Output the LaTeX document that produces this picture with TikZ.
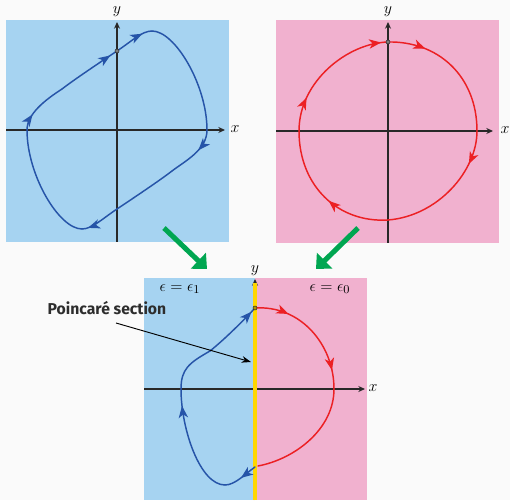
\documentclass[tikz,border=0pt]{standalone}
\usepackage{fontspec}
\newfontfamily\labelfont{Fira Sans}
\usetikzlibrary{arrows.meta,decorations.markings}
\definecolor{bgc}{RGB}{250,250,250}
\definecolor{panelblue}{RGB}{166,211,241}
\definecolor{panelpink}{RGB}{241,177,207}
\definecolor{curveblue}{RGB}{38,84,168}
\definecolor{curvered}{RGB}{236,32,36}
\definecolor{secyellow}{RGB}{255,214,0}
\definecolor{arrgreen}{RGB}{0,166,81}
\definecolor{axisc}{RGB}{40,40,40}
\definecolor{textc}{RGB}{45,45,45}
\tikzset{
  axisline/.style={draw=axisc, line width=0.8pt, -{Stealth[length=5pt,width=4.5pt]}},
  curveb/.style={draw=curveblue, line width=1.1pt, line cap=round},
  curver/.style={draw=curvered, line width=1.1pt, line cap=round},
  tipat/.style={postaction={decorate,decoration={markings,mark=at position #1 with {\arrow{Stealth[length=9pt,width=7pt,inset=2.5pt]}}}}},
  mathlabel/.style={inner sep=0pt, font=\fontsize{13}{15}\selectfont},
  dotmark/.style={circle, inner sep=0pt, minimum size=3pt, draw=axisc, line width=0.4pt},
  greenarrow/.style={draw=arrgreen, line width=3.8pt, -{Triangle[length=9pt,width=16pt]}},
  pointer/.style={draw=black, line width=0.7pt, -{Stealth[length=7pt,width=5pt]}},
}
\begin{document}
\begin{tikzpicture}[x=0.75pt,y=0.75pt]
\fill[bgc] (0,0) rectangle (510,500);
\useasboundingbox (0,0) rectangle (510,500);
% ---------- top-left panel ----------
\fill[panelblue] (6,258) rectangle (229,480);
\node[mathlabel] (x1) at (235,371) {$x$};
\node[mathlabel] (y1) at (117,488) {$y$};
\coordinate (x1s) at (6,370);
\coordinate (x1e) at (225,370);
\coordinate (y1s) at (117,258);
\coordinate (y1e) at (117,478);
\draw[axisline] (x1s) -- (x1e);
\draw[axisline] (y1s) -- (y1e);
\begin{scope}[shift={(117,370)}]
\draw[curveb,tipat=0.75] (0,79) .. controls (15,89) and (25,99) .. (35,99);
\draw[curveb] (35,99) .. controls (58,99) and (90,45) .. (90,0);
\draw[curveb,tipat=0.4] (90,0) .. controls (90,-20) and (68,-31) .. (55,-41);
\draw[curveb] (55,-41) .. controls (42,-51) and (15,-69) .. (0,-79);
\draw[curveb,tipat=0.85] (0,-79) .. controls (-15,-89) and (-25,-99) .. (-35,-99);
\draw[curveb] (-35,-99) .. controls (-58,-99) and (-90,-45) .. (-90,0);
\draw[curveb,tipat=0.3] (-90,0) .. controls (-90,16) and (-72,30) .. (-55,41);
\draw[curveb,tipat=0.88] (-55,41) .. controls (-42,51) and (-15,69) .. (0,79);
\node[dotmark, fill=axisc!60] (d1) at (0,79) {};
\end{scope}
% ---------- top-right panel ----------
\fill[panelpink] (276,257) rectangle (499,480);
\node[mathlabel] (x2) at (505,370) {$x$};
\node[mathlabel] (y2) at (388,488) {$y$};
\coordinate (x2s) at (276,369);
\coordinate (x2e) at (493,369);
\coordinate (y2s) at (388,257);
\coordinate (y2e) at (388,478);
\draw[axisline] (x2s) -- (x2e);
\draw[axisline] (y2s) -- (y2e);
\begin{scope}[shift={(388,369)}]
\draw[curver,tipat=0.27] (0,89) .. controls (50,90) and (89,55) .. (89,0);
\draw[curver,tipat=0.25] (89,0) .. controls (89,-40) and (50,-85) .. (0,-89);
\draw[curver,tipat=0.45] (0,-89) .. controls (-50,-92) and (-89,-55) .. (-89,0);
\draw[curver,tipat=0.25,tipat=0.95] (-89,0) .. controls (-89,50) and (-40,88) .. (0,89);
\node[dotmark, fill=axisc!60] (d2) at (0,89) {};
\end{scope}
% ---------- green arrows ----------
\coordinate (g1s) at (164,272);
\coordinate (g1e) at (207,231);
\coordinate (g2s) at (358,272);
\coordinate (g2e) at (316,231);
\draw[greenarrow] (g1s) -- (g1e);
\draw[greenarrow] (g2s) -- (g2e);
% ---------- bottom panel ----------
\fill[panelblue] (144,0) rectangle (255,222);
\fill[panelpink] (255,0) rectangle (367,222);
\node[mathlabel] (x3) at (373,112) {$x$};
\node[mathlabel] (y3) at (255,229) {$y$};
\node[mathlabel] (e1) at (180,211) {$\epsilon=\epsilon_1$};
\node[mathlabel] (e0) at (330,211) {$\epsilon=\epsilon_0$};
\coordinate (x3s) at (144,111);
\coordinate (x3e) at (365,111);
\coordinate (y3s) at (255,0);
\coordinate (y3e) at (255,221);
\coordinate (ys1) at (255,0);
\coordinate (ys2) at (255,217);
\draw[axisline] (x3s) -- (x3e);
\draw[axisline] (y3s) -- (y3e);
\draw[secyellow, line width=2.3pt] (ys1) -- (ys2);
\begin{scope}[shift={(255,111)}]
\draw[curver,tipat=0.27,tipat=0.85] (0,81) .. controls (45,84) and (79,45) .. (79,0);
\draw[curver,tipat=1] (79,0) .. controls (79,-40) and (40,-70) .. (3,-77);
\draw[curveb,tipat=0.5] (0,-78) .. controls (-10,-85) and (-20,-96) .. (-30,-96);
\draw[curveb,tipat=0.85] (-30,-96) .. controls (-55,-96) and (-74,-40) .. (-74,0);
\draw[curveb] (-74,0) .. controls (-74,20) and (-66,26) .. (-45,38);
\draw[curveb,tipat=0.92] (-45,38) .. controls (-30,50) and (-10,70) .. (0,81);
\node[dotmark, fill=secyellow!70!black] (d3) at (0,81) {};
\end{scope}
% ---------- Poincare label ----------
\node[font=\labelfont\bfseries\fontsize{11.8}{13}\selectfont, text=textc, inner sep=0pt] (pl) at (107,192) {Poincaré section};
\coordinate (pstart) at (116,177);
\coordinate (pend) at (251,138);
\draw[pointer] (pstart) -- (pend);
\end{tikzpicture}
\end{document}
